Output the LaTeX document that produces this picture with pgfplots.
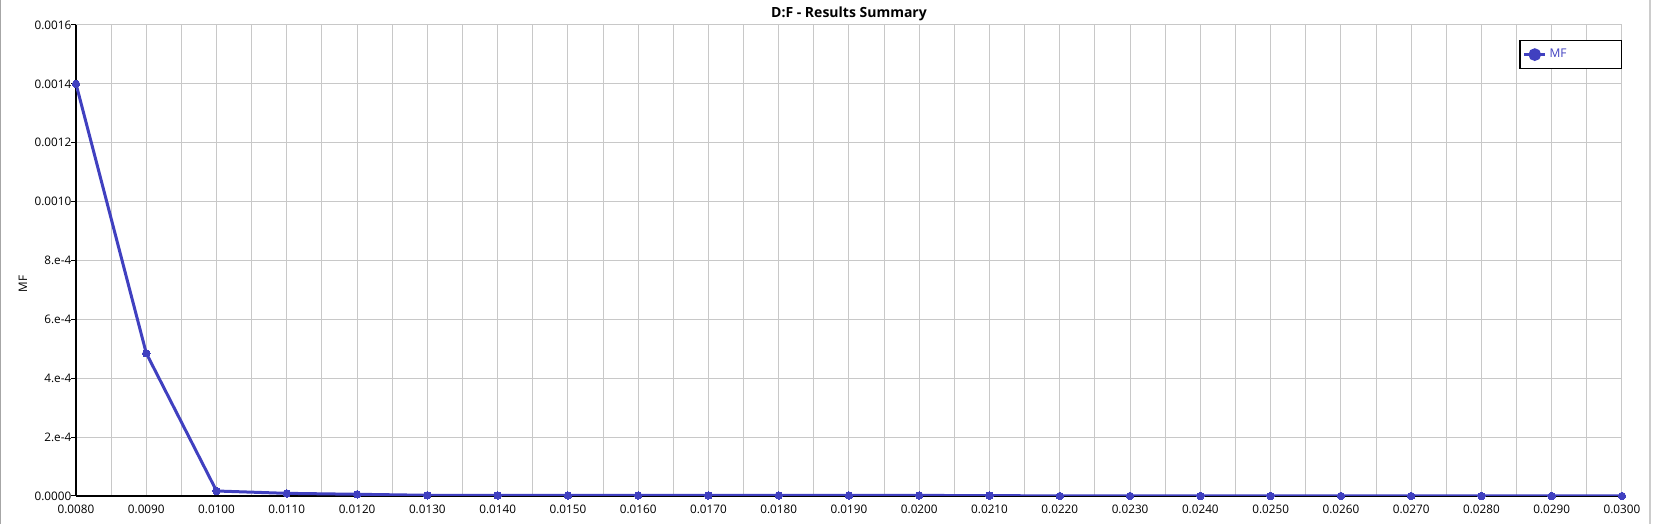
\documentclass[border=0pt]{standalone}
\usepackage{pgfplots}
\pgfplotsset{compat=1.18}
\usepackage{fontspec}
\setmainfont{Open Sans}

\definecolor{lineblue}{RGB}{64,64,192}
\definecolor{gridgray}{RGB}{200,200,200}

\begin{document}
\begin{tikzpicture}
\useasboundingbox (-57pt,-21pt) rectangle (1185pt,372pt);
\draw[color=gray!70, line width=1pt] (-56.5pt,-21pt) -- (-56.5pt,372pt);
\draw[color=gray!40, line width=1pt] (1180.5pt,-21pt) -- (1180.5pt,372pt);
\begin{axis}[
    at={(0,0)}, anchor=south west,
    scale only axis,
    width=1159.5pt, height=353.25pt,
    xmin=0.008, xmax=0.030,
    ymin=0, ymax=0.0016,
    xtick={0.008,0.009,...,0.0305},
    xticklabels={0.0080,0.0090,0.0100,0.0110,0.0120,0.0130,0.0140,0.0150,0.0160,0.0170,0.0180,0.0190,0.0200,0.0210,0.0220,0.0230,0.0240,0.0250,0.0260,0.0270,0.0280,0.0290,0.0300},
    minor x tick num=1,
    ytick={0,0.0002,0.0004,0.0006,0.0008,0.0010,0.0012,0.0014,0.0016},
    yticklabels={0.0000,2.e-4,4.e-4,6.e-4,8.e-4,0.0010,0.0012,0.0014,0.0016},
    scaled ticks=false,
    xmajorgrids, xminorgrids, ymajorgrids,
    grid style={color=gridgray, line width=0.75pt},
    minor grid style={color=gridgray, line width=0.75pt},
    axis x line*=bottom, axis y line*=left,
    axis line style={black, line width=1pt, -},
    tick align=inside,
    major tick length=3.75pt, minor tick length=3pt,
    xtick style={draw=none},
    minor x tick style={black, line width=0.75pt},
    ytick style={black, line width=0.75pt, xshift=-3.75pt},
    tick label style={font=\fontsize{8.8pt}{10pt}\selectfont, black},
    xticklabel style={yshift=-3.5pt},
    ylabel={MF},
    ylabel style={font=\fontsize{8.8pt}{10pt}\selectfont, at={(axis description cs:-0.0343,0.45)}, anchor=center},
    title={\textbf{D:F - Results Summary}},
    title style={font=\fontsize{10.5pt}{12pt}\selectfont, at={(axis description cs:0.5,1)}, anchor=base, yshift=-0.4pt},
    legend style={at={(axis description cs:1,1)}, anchor=north east, yshift=-11.25pt,
        draw=black, line width=1pt, font=\fontsize{9pt}{10pt}\selectfont,
        text=lineblue, inner xsep=2pt, inner ysep=4.5pt},
    legend image code/.code={
        \draw[#1, line width=2.25pt] (0pt,0pt) -- (16pt,0pt);
        \fill[lineblue] (8pt,0pt) circle (3.6pt);
    },
]
\addplot[color=lineblue, line width=2.25pt, mark=*, mark size=2.8pt, mark options={fill=lineblue, draw=lineblue, line width=0pt}]
coordinates {
(0.008,0.0014)(0.009,0.000485)(0.010,0.000017)(0.011,0.000009)(0.012,0.0000058)
(0.013,0.0000024)(0.014,0.0000018)(0.015,0.0000018)(0.016,0.0000018)(0.017,0.0000018)
(0.018,0.0000018)(0.019,0.0000018)(0.020,0.0000018)(0.021,0.0000015)(0.022,0.0)
(0.023,0.0)(0.024,0.0)(0.025,0.0)(0.026,0.0)(0.027,0.0)(0.028,0.0)(0.029,0.0)(0.030,0.0)
};
\addlegendentry{MF\hspace*{37pt}}
\end{axis}
\end{tikzpicture}
\end{document}
